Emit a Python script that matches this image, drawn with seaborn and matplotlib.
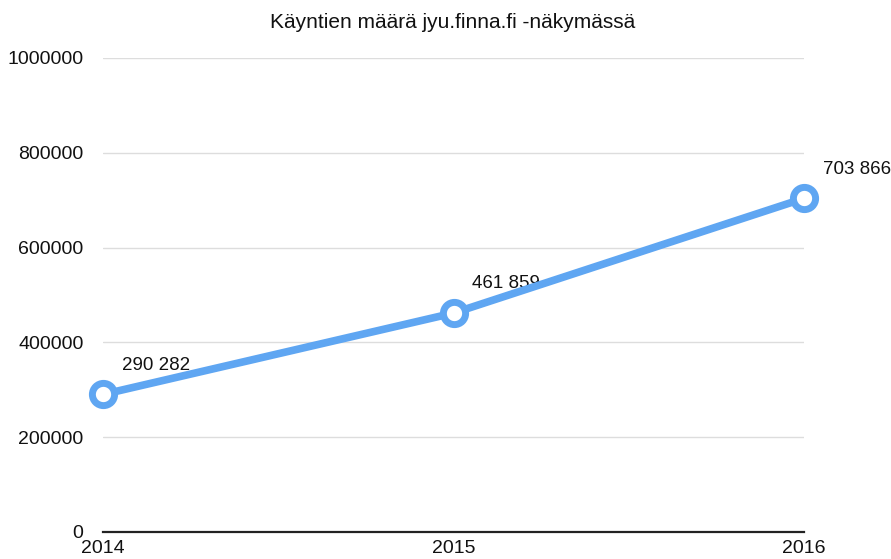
import matplotlib
matplotlib.use("Agg")
import matplotlib.pyplot as plt
import seaborn as sns
import pandas as pd

years = [2014, 2015, 2016]
visits = [290282, 461859, 703866]
labels = ["290 282", "461 859", "703 866"]
yticks = [0, 200000, 400000, 600000, 800000, 1000000]

sns.set_theme(style="white")
plt.rcParams['font.family'] = ['Liberation Sans', 'DejaVu Sans']

df = pd.DataFrame({"year": years, "visits": visits})
blue = "#5fa6f2"

fig = plt.figure(figsize=(8.91, 5.59), dpi=100)
ax = fig.add_axes([103/891, 27/559, 701/891, 474/559])

sns.lineplot(data=df, x="year", y="visits", ax=ax, color=blue, linewidth=5.5,
             marker="o", markersize=16, markerfacecolor="white",
             markeredgecolor=blue, markeredgewidth=5, clip_on=False, zorder=5)

for x, y, t in zip(years, visits, labels):
    ax.annotate(t, (x, y), xytext=(13.5, 21), textcoords="offset points",
                ha="left", va="center", fontsize=13.5, color="#111111")

ax.set_xlim(2014, 2016)
ax.set_ylim(0, 1000000)
ax.set_xticks(years)
ax.set_xticklabels([str(y) for y in years])
ax.set_yticks(yticks)
ax.set_yticklabels([str(v) for v in yticks])
ax.yaxis.grid(True, color="#dddddd", linewidth=1)
ax.tick_params(axis="both", length=0, labelsize=14, colors="#111111")
ax.tick_params(axis="y", pad=14)
ax.tick_params(axis="x", pad=6)
for s in ["left", "right", "top"]:
    ax.spines[s].set_visible(False)
ax.spines["bottom"].set_color("#222222")
ax.spines["bottom"].set_linewidth(1.6)
ax.set_xlabel("")
ax.set_ylabel("")
fig.text(453/891, 1 - 22/559, "Käyntien määrä jyu.finna.fi -näkymässä",
         ha="center", va="center", fontsize=15, color="#111111")

fig.savefig("out.png", dpi=100)
